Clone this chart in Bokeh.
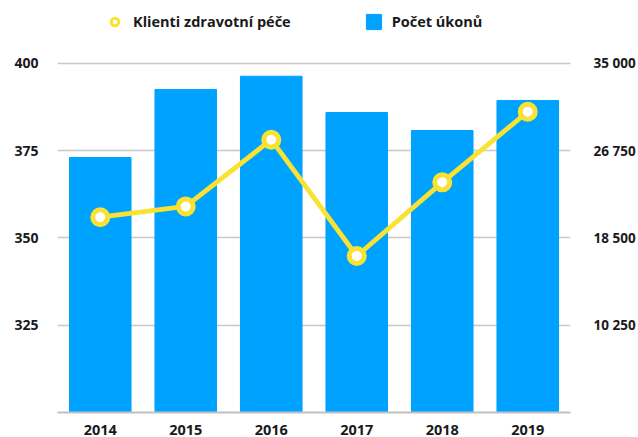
from bokeh.plotting import figure
from bokeh.models import (ColumnDataSource, Range1d, FactorRange, LinearAxis,
                          FixedTicker, Legend, LegendItem)
from bokeh.embed import file_html
from bokeh.resources import INLINE

years = ["2014", "2015", "2016", "2017", "2018", "2019"]
klienti = [355.9, 359.0, 378.1, 344.8, 365.9, 386.1]
ukony = [26090, 32520, 33770, 30340, 28640, 31480]

left_ticks = [325, 350, 375, 400]
right_ticks = [10250, 18500, 26750, 35000]
right_labels = ["10 250", "18 500", "26 750", "35 000"]

BLUE = "#00A2FF"
YELLOW = "#FAE232"
FONT = "Open Sans"

# frame reaches the top of the canvas so the legend sits inside it;
# the axes keep 300..400 (left) and 2 000..35 000 (right) tick values
LEFT_LO, LEFT_HI = 300, 417.95
RIGHT_LO = 2000
RIGHT_HI = RIGHT_LO + (LEFT_HI - LEFT_LO) * 330

src = ColumnDataSource(dict(year=years, klienti=klienti, ukony=ukony))

p = figure(width=638, height=437, x_range=FactorRange(*years),
           y_range=Range1d(LEFT_LO, LEFT_HI), output_backend="svg",
           toolbar_location=None, min_border_left=57, min_border_right=65,
           min_border_top=0, min_border_bottom=25)
p.extra_y_ranges = {"r": Range1d(RIGHT_LO, RIGHT_HI)}
p.x_range.range_padding = 0
p.outline_line_color = None
p.background_fill_color = "white"
p.border_fill_color = "white"

bars = p.vbar(x="year", top="ukony", bottom=RIGHT_LO, width=0.72, source=src,
              y_range_name="r", color=BLUE)
p.line(x="year", y="klienti", source=src, line_color=YELLOW, line_width=4.8)
# thin-ring marker used for the legend swatch (hidden below the main markers)
legend_marker = p.scatter(x="year", y="klienti", source=src, size=6,
                          marker="circle", fill_color="white",
                          line_color=YELLOW, line_width=3)
pts = p.scatter(x="year", y="klienti", source=src, size=15, marker="circle",
                fill_color="white", line_color=YELLOW, line_width=5)

# left axis
ya = p.yaxis[0]
ya.ticker = FixedTicker(ticks=left_ticks)
ya.axis_line_color = None
ya.major_tick_line_color = None
ya.minor_tick_line_color = None
ya.major_label_standoff = 13
ya.major_label_text_font = FONT
ya.major_label_text_font_style = "bold"
ya.major_label_text_font_size = "14px"
ya.major_label_text_color = "#1a1a1a"

ra = LinearAxis(y_range_name="r", ticker=FixedTicker(ticks=right_ticks),
                major_label_overrides={t: l for t, l in zip(right_ticks, right_labels)})
ra.axis_line_color = None
ra.major_tick_line_color = None
ra.minor_tick_line_color = None
ra.major_label_standoff = 17
ra.major_label_text_font = FONT
ra.major_label_text_font_style = "bold"
ra.major_label_text_font_size = "13.5px"
ra.major_label_text_color = "#1a1a1a"
p.add_layout(ra, "right")

xa = p.xaxis[0]
xa.axis_line_color = "#c0c0c0"
xa.axis_line_width = 2
xa.major_tick_line_color = None
xa.minor_tick_line_color = None
xa.major_label_standoff = 6
xa.major_label_text_font = FONT
xa.major_label_text_font_style = "bold"
xa.major_label_text_font_size = "14.5px"
xa.major_label_text_color = "#1a1a1a"

p.xgrid.grid_line_color = None
p.ygrid.ticker = FixedTicker(ticks=left_ticks)
p.ygrid.grid_line_color = "#c8c8c8"
p.ygrid.grid_line_width = 1.5

legend = Legend(items=[LegendItem(label="Klienti zdravotní péče", renderers=[legend_marker]),
                       LegendItem(label="Počet úkonů", renderers=[bars])],
                orientation="horizontal", location=(48, 381),
                glyph_width=19, glyph_height=19, label_height=19,
                label_standoff=9, spacing=73,
                padding=0, margin=0, border_line_color=None,
                background_fill_alpha=0,
                label_text_font=FONT, label_text_font_style="bold",
                label_text_font_size="14.5px", label_text_color="#1a1a1a")
p.add_layout(legend, "center")

open("out.html", "w").write(file_html(p, INLINE))
